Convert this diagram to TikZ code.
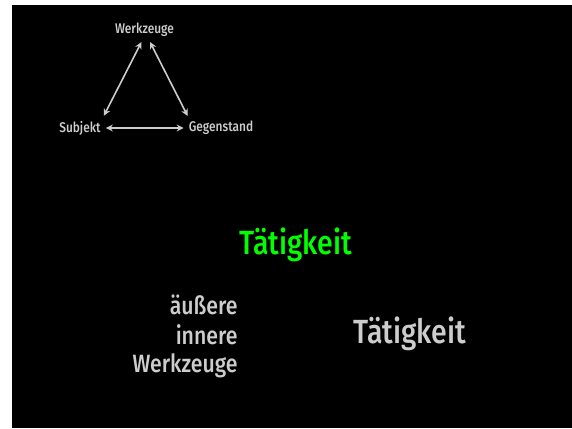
\documentclass[tikz,border=0pt]{standalone}
\usepackage{fontspec}
\setmainfont[FakeStretch=0.85]{Fira Sans Medium}
\usetikzlibrary{arrows.meta,positioning}

\definecolor{slidegray}{RGB}{205,205,205}
\definecolor{slidegreen}{RGB}{0,255,0}

\tikzset{
	small/.style={text=slidegray,inner sep=1pt,font=\fontsize{14}{16}\selectfont},
	medium/.style={text=slidegray,inner sep=0pt,anchor=base east,font=\fontsize{25}{29}\selectfont},
	big/.style={inner sep=0pt,anchor=base,font=\fontsize{33.5}{40}\selectfont},
	link/.style={{Stealth[length=7pt,width=7pt]}-{Stealth[length=7pt,width=7pt]},draw=slidegray,line width=1.6pt}
}

\begin{document}
\begin{tikzpicture}[x=1pt,y=-1pt]
\useasboundingbox (0,0) rectangle (572,428);
\fill[black] (12,5) rectangle (572,428);

\node[small] (werk) at (144.5,30) {Werkzeuge};
\node[small] (subj) at (80,128) {Subjekt};
\node[small] (gegen) at (221,128) {Gegenstand};

\draw[link] ([xshift=-3pt,yshift=-4pt]werk.south) -- ([xshift=2pt,yshift=4pt]subj.north east);
\draw[link] ([xshift=5.5pt,yshift=-4pt]werk.south) -- ([xshift=0pt,yshift=4pt]gegen.north west);
\draw[link] ([xshift=4pt]subj.east) -- ([xshift=-4pt]gegen.west);

\node[big,text=slidegreen] (taet) at (296,254.7) {Tätigkeit};

\node[medium] (aeussere) at (237.7,314.3) {äußere};
\node[medium] (innere) at (237.7,344) {innere};
\node[medium] (werkzeuge) at (237.7,372.7) {Werkzeuge};

\node[big,text=slidegray] (taet2) at (410,343.3) {Tätigkeit};

\end{tikzpicture}
\end{document}
